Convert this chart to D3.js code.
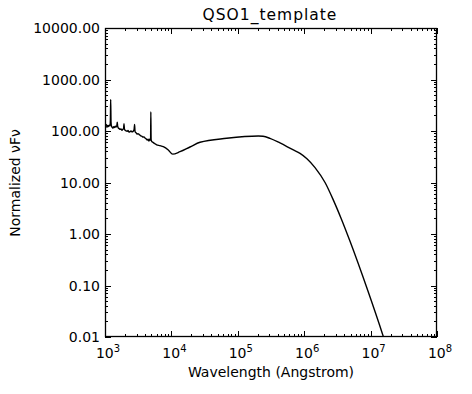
<!DOCTYPE html>
<html><head><meta charset="utf-8">
<script src="https://cdn.jsdelivr.net/npm/d3@7"></script>
<style>body{margin:0;background:#fff}svg{display:block}text{font-family:"DejaVu Sans",sans-serif;fill:#000}</style>
</head><body>
<svg id="c" width="472" height="394"></svg>
<script>
const title = "QSO1_template";
const xLabel = "Wavelength (Angstrom)";
const yLabel = "Normalized \u03BDF\u03BD";
const xTickExps = [3,4,5,6,7,8];
const yTickValues = [0.01,0.1,1,10,100,1000,10000];
const yTickLabels = ["0.01","0.10","1.00","10.00","100.00","1000.00","10000.00"];
// wavelength (Angstrom)
const wavelength = [1000,1015,1030,1050,1072,1100,1129,1160,1189,1205,1218,1232,1253,1285,1320,1355,1390,1430,1465,1510,1531,1550,1597,1640,1682,1740,1803,1860,1905,1932,1960,2000,2070,2143,2220,2297,2380,2464,2560,2660,2740,2790,2830,2878,2950,3034,3140,3251,3360,3485,3610,3735,3870,4003,4150,4291,4450,4600,4750,4860,4900,4950,5007,5100,5284,5600,6005,6700,7550,8980,10460,13480,19050,26970,68000,203700,240000,305000,432000,686000,865000,1100000,1456000,2060000,2740000,3600000,4900000,9150000,15400000,18000000];
// normalized nuFnu
const flux = [122,140,126,132,118,128,122,130,126,160,410,150,124,118,114,121,117,124,119,128,148,124,113,111,108,110,103,108,112,138,110,104,101,99,102,95,97,100,96,99,106,134,100,94,92,87,89,86,83,80,79,76,77,73,71,67,69,64,70,66,236,68,64,62,60,57,54,52,49.6,42.8,35.5,39.6,48.9,60.4,72.1,80,79,72,58.5,42.8,36.9,29,19.5,10,4.6,2.0,0.72,0.077,0.0106,0.0057];

const svg = d3.select("#c");
const L=105,R=437,T=28,B=337;
const x = d3.scaleLog().domain([1e3,1e8]).range([L,R]);
const y = d3.scaleLog().domain([0.01,10000]).range([B,T]);

svg.append("defs").append("clipPath").attr("id","clip").append("rect").attr("x",L).attr("y",T).attr("width",R-L).attr("height",B-T);

// ticks
const g = svg.append("g").attr("stroke","#000").attr("stroke-width",1);
const minorX=[], majorX=[];
for(let e=3;e<8;e++){ for(let m=2;m<10;m++) minorX.push(m*Math.pow(10,e)); }
for(const e of xTickExps) majorX.push(Math.pow(10,e));
const minorY=[];
for(let e=-2;e<4;e++){ for(let m=2;m<10;m++) minorY.push(m*Math.pow(10,e)); }
const MJ=6, MN=3;
minorX.forEach(v=>{const px=Math.round(x(v))+0.5;
  g.append("line").attr("x1",px).attr("x2",px).attr("y1",B).attr("y2",B-MN);
  g.append("line").attr("x1",px).attr("x2",px).attr("y1",T).attr("y2",T+MN);});
majorX.forEach(v=>{const px=Math.round(x(v))+0.5;
  g.append("line").attr("x1",px).attr("x2",px).attr("y1",B).attr("y2",B-MJ);
  g.append("line").attr("x1",px).attr("x2",px).attr("y1",T).attr("y2",T+MJ);});
minorY.forEach(v=>{const py=Math.round(y(v))+0.5;
  g.append("line").attr("x1",L).attr("x2",L+MN).attr("y1",py).attr("y2",py);
  g.append("line").attr("x1",R).attr("x2",R-MN).attr("y1",py).attr("y2",py);});
yTickValues.forEach(v=>{const py=Math.round(y(v))+0.5;
  g.append("line").attr("x1",L).attr("x2",L+MJ).attr("y1",py).attr("y2",py);
  g.append("line").attr("x1",R).attr("x2",R-MJ).attr("y1",py).attr("y2",py);});
svg.append("rect").attr("x",L+0.5).attr("y",T+0.5).attr("width",R-L-1).attr("height",B-T-1)
  .attr("fill","none").attr("stroke","#000").attr("stroke-width",1.3);

// labels
yTickValues.forEach((v,i)=>{
  svg.append("text").attr("x",L-5).attr("y",y(v)+5).attr("text-anchor","end").attr("font-size",14).text(yTickLabels[i]);
});
xTickExps.forEach(e=>{
  const t=svg.append("text").attr("x",x(Math.pow(10,e))+3).attr("y",358).attr("text-anchor","middle").attr("font-size",14);
  t.append("tspan").text("10");
  t.append("tspan").attr("dy",-6).attr("font-size",10).text(e);
});
svg.append("text").attr("x",270).attr("y",20).attr("text-anchor","middle").attr("font-size",15.5).attr("letter-spacing",1).text(title);
svg.append("text").attr("x",271).attr("y",377).attr("text-anchor","middle").attr("font-size",14).text(xLabel);
svg.append("text").attr("transform","translate(20,183) rotate(-90)").attr("text-anchor","middle").attr("font-size",14).text(yLabel);

// line
const data = wavelength.map((w,i)=>[w,flux[i]]);
svg.append("path").datum(data).attr("clip-path","url(#clip)")
  .attr("fill","none").attr("stroke","#000").attr("stroke-width",1.4).attr("stroke-linejoin","round")
  .attr("d",d3.line().x(d=>x(d[0])).y(d=>y(d[1])).curve(d3.curveMonotoneX));
</script>
</body></html>
